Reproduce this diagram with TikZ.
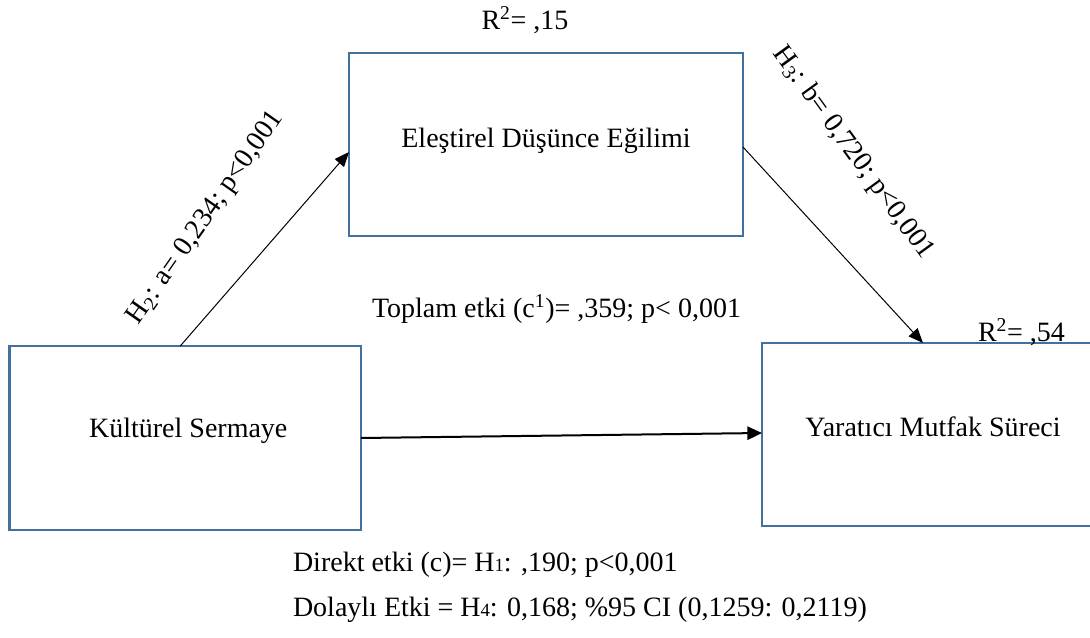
\documentclass[tikz,border=0pt]{standalone}
\usepackage{fontspec}
\setmainfont{Liberation Serif}
\usetikzlibrary{arrows.meta,calc}
\definecolor{boxblue}{RGB}{65,113,156}
\begin{document}
\begin{tikzpicture}[x=0.75pt,y=-0.75pt,
  every node/.style={font=\fontsize{21}{25}\selectfont, inner sep=0pt, outer sep=0pt},
  varbox/.style={draw=boxblue, line width=2pt, rectangle},
  arr/.style={-{Triangle[length=11pt,width=9pt]}, line width=0.75pt},
  thickarr/.style={-{Triangle[length=11pt,width=10pt]}, line width=1.5pt}
]
\clip (0,0) rectangle (1090,638);
% boxes
\node[varbox, minimum width=263.6pt, minimum height=138pt] (k) at (185.25,438) {};
\node[varbox, minimum width=295.5pt, minimum height=137.25pt] (e) at (546,144.5) {};
\node[varbox, minimum width=250.5pt, minimum height=137.25pt] (y) at (929,434.5) {};
% box texts
\node (kt) at ($(k.center)+(3,-7)$) {Kültürel Sermaye};
\node (et) at ($(e.center)+(0,-4)$) {Eleştirel Düşünce Eğilimi};
\node (yt) at ($(y.center)+(4,-8)$) {Yaratıcı Mutfak Süreci};
% connectors
\draw[arr] ($(k.north)+(-5,0)$) -- ($(e.west)+(0,7.5)$);
\draw[arr] ($(e.east)+(0,2.5)$) -- ($(y.north)+(-6,0)$);
\draw[thickarr] (k.east) -- ($(y.west)+(0,-1.5)$);
% labels
\node[rotate=55] (h2) at (206,218) {H\textsubscript{2}: a= 0,234; p<0,001};
\node[rotate=-54] (h3) at (853,153) {H\textsubscript{3}: b= 0,720; p<0,001};
\node (r1) at (525,20) {R\textsuperscript{2}= ,15};
\node[anchor=base west] (r2) at (978,342) {R\textsuperscript{2}= ,54};
\node[anchor=base west] (tot) at (372,318) {Toplam etki (c\textsuperscript{1})= ,359; p< 0,001};
\node[anchor=base west] (dir) at (293,571) {Direkt etki (c)= H{\fontsize{14}{14}\selectfont 1}: ,190; p<0,001};
\node[anchor=base west] (ind) at (293,616) {Dolaylı Etki = H{\fontsize{14}{14}\selectfont 4}: 0,168; \%95 CI (0,1259: 0,2119)};
\end{tikzpicture}
\end{document}
